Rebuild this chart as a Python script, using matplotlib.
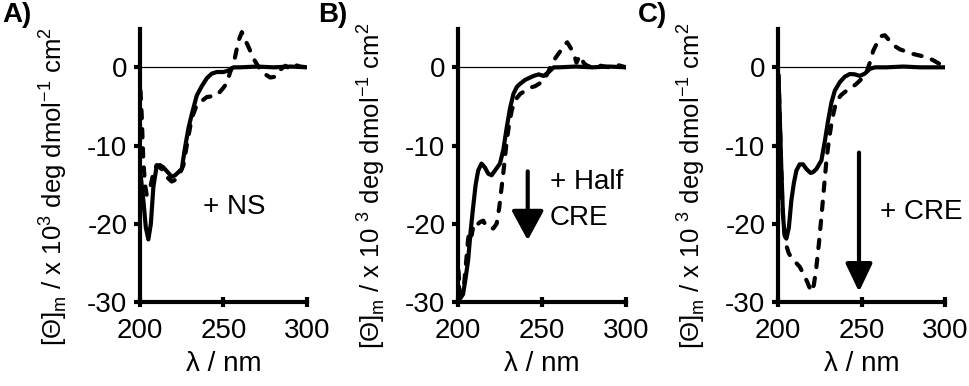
import matplotlib
matplotlib.use("Agg")
import matplotlib.pyplot as plt

plt.rcParams['font.family'] = ['Liberation Sans', 'DejaVu Sans']
plt.rcParams['axes.unicode_minus'] = False

# ---------------- data ----------------
A_solid_x = [200.5, 202, 203.5, 205, 206.5, 208, 210, 212, 214, 217, 219, 221, 223, 225, 227, 229, 231, 234, 237, 240, 243, 246, 250, 253, 256, 260, 270, 280, 290, 300]
A_solid_y = [-14, -17, -20.5, -22, -20, -15.3, -12.6, -12.5, -12.8, -13.5, -14.0, -13.8, -13.4, -13.0, -10.2, -7.8, -6.0, -3.6, -2.4, -1.4, -0.8, -0.6, -0.6, -0.4, 0, 0, 0.1, 0, 0.1, 0]
A_dash_x = [200.3, 201, 201.5, 202, 203, 204, 205, 206.5, 208, 210, 213, 216, 219, 221, 224, 226, 228, 231, 234, 237, 240, 246, 250, 252, 254, 256, 259, 261, 263, 265, 268, 270, 272, 275, 278, 281, 284, 287, 290, 293, 296, 300]
A_dash_y = [-3, -6, -9, -12, -15, -16.3, -16, -15, -13.5, -12.5, -13, -14, -14.6, -14.4, -13.5, -12.5, -10, -6.5, -4.8, -4.3, -3.8, -3.6, -2.6, -2.0, -0.6, 0.4, 3.4, 4.5, 3.5, 2.6, 1.1, 0.4, -0.3, -0.9, -1.3, -1.2, -0.3, 0.2, -0.2, 0.3, 0.1, 0]

B_solid_x = [200.5, 201.5, 203, 204.5, 206, 207.5, 209, 210.5, 212, 214, 216, 218, 220, 222, 225, 227, 229, 231, 233, 235, 237, 240, 245, 248, 251, 254, 257, 260, 270, 280, 290, 300]
B_solid_y = [-28, -29.5, -29, -27, -24.7, -21, -17.9, -15, -13.2, -12.3, -12.8, -13.6, -13.8, -13.2, -12.3, -10.5, -7.7, -5.2, -3.4, -2.5, -2.1, -1.6, -1.1, -0.9, -1.1, -0.6, 0, 0, 0.1, 0, 0.1, 0]
B_dash_x = [200.3, 201, 202, 203.5, 205, 206, 207, 208, 209.5, 211, 213, 215, 217, 219, 221, 223, 224.5, 226, 227.5, 229, 230.5, 232, 234, 237, 240, 243, 246, 249, 251, 253, 255, 258, 261, 263, 265, 267, 269, 270.5, 272.5, 275, 277, 280, 285, 290, 295, 300]
B_dash_y = [-26, -28.5, -29.2, -28, -24.5, -22, -20.8, -21.5, -20, -20.2, -19.8, -19.6, -20.4, -20.5, -20.6, -20, -18, -15.3, -12.5, -9.4, -7.2, -5.5, -4.2, -3.4, -3, -2.6, -2.4, -2, -1.7, -0.9, 0, 1.2, 2.1, 2.8, 3.2, 2.5, 1.7, 0.6, 1.5, 0.5, 0.2, 0, 0.2, 0, 0.3, 0]

C_solid_x = [200.3, 201, 202, 203, 204, 205, 206.5, 208, 209.5, 211, 213, 215, 217, 219.5, 221, 223, 226, 228, 230, 232, 234, 237, 240, 243, 246, 249, 252, 255, 258, 265, 275, 285, 300]
C_solid_y = [-1, -6, -13, -19, -21.5, -21.9, -20.5, -17, -14.8, -13.2, -12.4, -12.4, -13, -13.5, -13.4, -13, -11.9, -9.5, -6.8, -4.5, -3, -1.9, -1.2, -0.85, -0.9, -1.1, -0.8, -0.2, 0, 0, 0.1, 0, 0]
C_dash_x = [200.3, 201, 201.8, 202.5, 203.5, 205, 206.5, 208, 210, 213, 215, 217, 219, 220, 221.5, 223, 224.5, 226, 227.5, 229, 230.5, 232, 233.5, 235, 238, 241, 244, 247, 250, 253, 255, 257, 259.5, 262, 264, 266, 270, 273, 277, 281, 285, 289, 293, 297, 300]
C_dash_y = [-1, -6, -12, -17, -20.5, -22.8, -23.8, -24.3, -24.8, -25.5, -26.3, -27.2, -28.2, -28.7, -27.8, -25.5, -22.5, -19.1, -15.5, -11.9, -9.3, -7.2, -5.6, -4.3, -3.5, -3, -2.6, -2.1, -1.5, -0.6, 0.6, 2.1, 3.2, 4.0, 4.1, 3.6, 2.7, 2.3, 2.0, 1.7, 1.5, 1.3, 0.9, 0.4, 0]

panel_letters = ["A)", "B)", "C)"]
ylabels = [r"[Θ]$_\mathregular{m}$ / x 10$^\mathregular{3}$ deg dmol$^\mathregular{-1}$ cm$^\mathregular{2}$",
           r"[Θ]$_\mathregular{m}$ / x 10 $^\mathregular{3}$ deg dmol$^\mathregular{-1}$ cm$^\mathregular{2}$",
           r"[Θ]$_\mathregular{m}$ / x 10 $^\mathregular{3}$ deg dmol$^\mathregular{-1}$ cm$^\mathregular{2}$"]
xlabel = "λ / nm"
xticks = [200, 250, 300]
yticks = [0, -10, -20, -30]

# ---------------- figure ----------------
W, H = 970, 386
fig = plt.figure(figsize=(W / 100, H / 100), dpi=100)

lefts = [140, 458, 778]
widths = [167, 168, 167]
top_px, bot_px = 29, 302
ylab_x = [53, 371, 691]
letter_x = [2, 318, 638]

series = [(A_solid_x, A_solid_y, A_dash_x, A_dash_y),
          (B_solid_x, B_solid_y, B_dash_x, B_dash_y),
          (C_solid_x, C_solid_y, C_dash_x, C_dash_y)]

FS = 20
axes = []
for i in range(3):
    ax = fig.add_axes([lefts[i] / W, 1 - bot_px / H, widths[i] / W, (bot_px - top_px) / H])
    axes.append(ax)
    sx, sy, dx, dy = series[i]
    ax.axhline(0, color='black', lw=0.9, zorder=1)
    ax.plot(dx, dy, color='black', lw=3, linestyle=(0, (2.0, 2.6)),
            dash_capstyle='round', zorder=3)
    ax.plot(sx, sy, color='black', lw=3, solid_capstyle='round',
            solid_joinstyle='round', zorder=4)
    ax.set_xlim(200, 300)
    ax.set_ylim(-30, 4.9)
    for s in ['top', 'right']:
        ax.spines[s].set_visible(False)
    for s in ['left', 'bottom']:
        ax.spines[s].set_linewidth(3)
    ax.set_xticks(xticks)
    ax.set_yticks(yticks)
    ax.tick_params(axis='y', direction='out', length=4, width=3, pad=5, labelsize=FS)
    ax.tick_params(axis='x', direction='inout', length=7, width=3, pad=8, labelsize=FS)
    ax.set_xlabel(xlabel, fontsize=FS, labelpad=5)
    ax.patch.set_alpha(0)
    fig.text(ylab_x[i] / W, 1 - 186 / H, ylabels[i], rotation=90,
             ha='center', va='center', fontsize=18.5)
    fig.text(letter_x[i] / W, 1 - 15 / H, panel_letters[i], ha='left', va='center',
             fontsize=20, fontweight='bold')

# annotations
axes[0].text(237.5, -17.8, "+ NS", fontsize=FS, ha='left', va='center')

axes[1].text(254.8, -14.6, "+ Half", fontsize=FS, ha='left', va='center')
axes[1].text(254.8, -19.2, "CRE", fontsize=FS, ha='left', va='center')
axes[1].annotate('', xy=(241.5, -22.1), xytext=(241.5, -13.3),
                 arrowprops=dict(arrowstyle='-|>,head_length=0.9,head_width=0.49',
                                 lw=3, color='black', mutation_scale=20,
                                 shrinkA=0, shrinkB=0))

axes[2].text(261, -18.5, "+ CRE", fontsize=FS, ha='left', va='center')
axes[2].annotate('', xy=(248.5, -28.7), xytext=(248.5, -10.9),
                 arrowprops=dict(arrowstyle='-|>,head_length=0.86,head_width=0.41',
                                 lw=3, color='black', mutation_scale=20,
                                 shrinkA=0, shrinkB=0))

fig.savefig("out.png", dpi=100)
